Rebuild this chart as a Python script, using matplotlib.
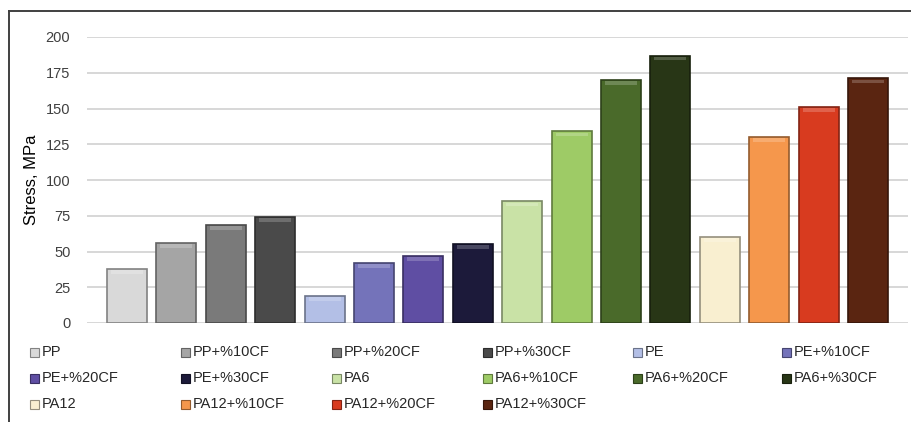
import numpy as np
import matplotlib.pyplot as plt
from matplotlib.lines import Line2D
from matplotlib.patches import Rectangle
from matplotlib import colors as mcolors

materials = ["PP", "PP+%10CF", "PP+%20CF", "PP+%30CF",
             "PE", "PE+%10CF", "PE+%20CF", "PE+%30CF",
             "PA6", "PA6+%10CF", "PA6+%20CF", "PA6+%30CF",
             "PA12", "PA12+%10CF", "PA12+%20CF", "PA12+%30CF"]
stress = [38, 56, 68.5, 74,
          19, 42, 47, 55,
          85, 134, 170, 187,
          60, 130, 151, 171]
bar_colors = ["#d9d9d9", "#a5a5a5", "#7a7a7a", "#4a4a4a",
              "#b3bfe6", "#7473ba", "#5f4ea3", "#1c1a3a",
              "#c9e2a6", "#9ecb66", "#4a6a2a", "#283616",
              "#f9efd0", "#f5974c", "#d83b1f", "#5a2511"]
yticks = [0, 25, 50, 75, 100, 125, 150, 175, 200]

W, H = 912, 422
fig = plt.figure(figsize=(W / 100, H / 100), dpi=100)
ax = fig.add_axes([87 / W, 1 - 323 / H, (908 - 87) / W, (323 - 37) / H])

x = np.arange(len(stress))
bw = 0.81


def shade(c, f):
    r, g, b = mcolors.to_rgb(c)
    if f < 1:
        return (r * f, g * f, b * f)
    return (r + (1 - r) * (f - 1), g + (1 - g) * (f - 1), b + (1 - b) * (f - 1))


for xi, v, c in zip(x, stress, bar_colors):
    ax.bar(xi, v, width=bw, color=c, edgecolor=shade(c, 0.6), linewidth=1.2, zorder=3)
    # bevel highlight on top of each bar
    ax.bar(xi, 2.6, bottom=v - 3.4, width=bw * 0.8, color=shade(c, 1.2),
           linewidth=0, zorder=4)

ax.set_xlim(-0.81, len(stress) - 1 + 0.81)
ax.set_ylim(0, 200)
ax.set_yticks(yticks)
ax.set_xticks([])
ax.yaxis.grid(True, color="#d4d4d4", linewidth=1.3)
ax.set_axisbelow(True)
for s in ax.spines.values():
    s.set_visible(False)
ax.tick_params(axis="y", length=0, pad=12, labelsize=10.5, labelcolor="#404040")
for lab in ax.get_yticklabels():
    lab.set_family("Liberation Sans")
ax.set_ylabel("Stress, MPa", fontsize=12, family="Liberation Sans", labelpad=5)

# legend laid out in rows of six
col_x = [30, 181, 332, 483, 633, 782]
row_y = [352, 378, 404]
for i, (name, c) in enumerate(zip(materials, bar_colors)):
    r, k = divmod(i, 6)
    px, py = col_x[k], row_y[r]
    fig.add_artist(Rectangle((px / W, 1 - (py + 5) / H), 9 / W, 9 / H,
                             transform=fig.transFigure, facecolor=c,
                             edgecolor=shade(c, 0.6), linewidth=0.8))
    fig.text((px + 12) / W, 1 - py / H, name, fontsize=10.5, va="center",
             ha="left", color="#262626", family="Liberation Sans")

# outer frame
fig.add_artist(Line2D([9 / W, 9 / W], [0, 1 - 11 / H], transform=fig.transFigure,
                      color="#404040", linewidth=1.4))
fig.add_artist(Line2D([9 / W, 1], [1 - 11 / H, 1 - 11 / H], transform=fig.transFigure,
                      color="#404040", linewidth=1.4))

fig.savefig("out.png", dpi=100)
